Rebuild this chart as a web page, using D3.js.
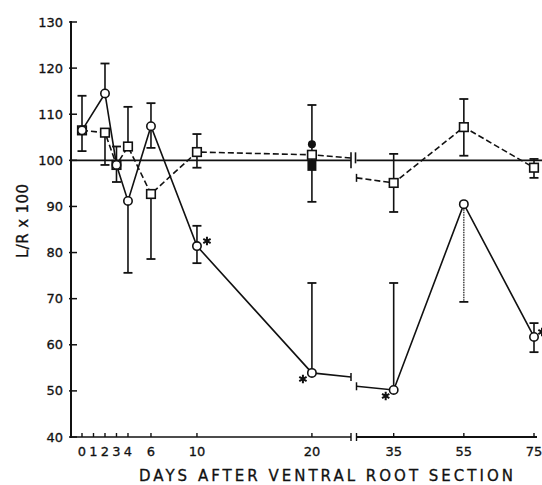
<!DOCTYPE html>
<html><head><meta charset="utf-8">
<script src="https://cdn.jsdelivr.net/npm/d3@7"></script>
<style>body{margin:0;background:#fff} svg{display:block}</style>
</head><body>
<script>
// ---- data ----
const days = [0, 2, 3, 4, 6, 10, 20, 35, 55, 75];
const circleVals = [106.5, 114.5, 99, 91.2, 107.4, 81.4, 53.9, 50.2, 90.5, 61.7];
const circleHi   = [114, 121, null, null, 112.4, 85.8, 73.4, 73.4, null, 64.7];
const circleLo   = [102, null, null, 75.6, 102.7, 77.7, null, null, 69.3, 58.4];
const squareVals = [106.5, 106, 99, 103, 92.7, 101.8, 101.2, 95.1, 107.2, 98.4];
const squareHi   = [null, null, 103, 111.6, null, 105.7, 112, 101.4, 113.3, 100.3];
const squareLo   = [null, 99, 95.3, null, 78.6, 98.4, 91, 88.8, 101, 96.2];
const filledDay = 20, filledCircle = 103.5, filledSquare = 98.8;
const breakDays = [23.4, 24.4];
const circleBreak = [53, 51];
const squareBreak = [100.5, 96.2];
const starDays = [10, 20, 35, 75];
const xTicks = [0, 1, 2, 3, 4, 6, 10, 20, 35, 55, 75];
const xTickLabels = ["0", "1", "2", "3", "4", "6", "10", "20", "35", "55", "75"];
const yTicks = [40, 50, 60, 70, 80, 90, 100, 110, 120, 130];
const refValue = 100;

// ---- drawing ----
const W = 542, H = 485;
const svg = d3.select("body").append("svg").attr("width", W).attr("height", H);
const x = d3.scaleLinear().domain([0, breakDays[0], breakDays[1], 75]).range([82, 351, 356.5, 534]);
const y = d3.scaleLinear().domain([40, 130]).range([437, 22]);
const FONT = "DejaVu Sans, sans-serif";
const ink = "#111";

// axes
const axisG = svg.append("g").attr("stroke", ink).attr("fill", "none");
axisG.append("line").attr("x1", 71).attr("x2", 71).attr("y1", y(130) - 1).attr("y2", y(40) + 1).attr("stroke-width", 2);
axisG.append("line").attr("x1", 70).attr("x2", x(breakDays[0])).attr("y1", y(40)).attr("y2", y(40)).attr("stroke-width", 1.6);
axisG.append("line").attr("x1", x(breakDays[1])).attr("x2", 537).attr("y1", y(40)).attr("y2", y(40)).attr("stroke-width", 2);
breakDays.forEach(b => axisG.append("line").attr("x1", x(b)).attr("x2", x(b)).attr("y1", y(40) - 4).attr("y2", y(40) + 4).attr("stroke-width", 1.4));

// y ticks
yTicks.forEach(v => {
  axisG.append("line").attr("x1", 69).attr("x2", 77).attr("y1", y(v)).attr("y2", y(v)).attr("stroke-width", 1.5);
});
svg.append("g").selectAll("text").data(yTicks).join("text")
  .attr("x", 63).attr("y", d => y(d) + 4.6).attr("text-anchor", "end")
  .attr("font-family", FONT).attr("font-size", 13).attr("fill", ink)
  .attr("stroke", ink).attr("stroke-width", 0.3)
  .text(d => d);

// x ticks
xTicks.forEach(v => {
  axisG.append("line").attr("x1", x(v)).attr("x2", x(v)).attr("y1", y(40)).attr("y2", y(40) - 4).attr("stroke-width", 1.4);
});
svg.append("g").selectAll("text").data(xTicks).join("text")
  .attr("x", d => x(d)).attr("y", 456).attr("text-anchor", "middle")
  .attr("font-family", FONT).attr("font-size", 13).attr("fill", ink)
  .attr("stroke", ink).attr("stroke-width", 0.3)
  .text((d, i) => xTickLabels[i]);

// titles
svg.append("text").attr("x", 139).attr("y", 481)
  .attr("font-family", FONT).attr("font-size", 15).attr("fill", ink)
  .attr("stroke", ink).attr("stroke-width", 0.3)
  .attr("textLength", 374).attr("lengthAdjust", "spacing")
  .text("DAYS AFTER VENTRAL ROOT SECTION");
svg.append("text").attr("transform", "translate(28,258) rotate(-90)")
  .attr("font-family", FONT).attr("font-size", 15).attr("fill", ink)
  .attr("stroke", ink).attr("stroke-width", 0.3)
  .attr("textLength", 74).attr("lengthAdjust", "spacing")
  .text("L/R x 100");

// reference line with break
const refG = svg.append("g").attr("stroke", ink).attr("stroke-width", 1.6);
refG.append("line").attr("x1", 71).attr("x2", x(breakDays[0])).attr("y1", y(refValue)).attr("y2", y(refValue));
refG.append("line").attr("x1", x(breakDays[1])).attr("x2", 542).attr("y1", y(refValue)).attr("y2", y(refValue));
refG.append("line").attr("x1", x(breakDays[0])).attr("x2", x(breakDays[0])).attr("y1", y(refValue) - 8).attr("y2", y(refValue) + 8);
refG.append("line").attr("x1", x(breakDays[1]) - 1).attr("x2", x(breakDays[1]) - 1).attr("y1", y(refValue) - 8).attr("y2", y(refValue) + 3);

// series lines
const line = d3.line().x(d => x(d[0])).y(d => y(d[1]));
function seriesPts(vals, brk) {
  const left = [], right = [];
  days.forEach((d, i) => { (d <= 20 ? left : right).push([d, vals[i]]); });
  left.push([breakDays[0], brk[0]]);
  right.unshift([breakDays[1], brk[1]]);
  return [left, right];
}
const [cL, cR] = seriesPts(circleVals, circleBreak);
const [sL, sR] = seriesPts(squareVals, squareBreak);
const linesG = svg.append("g").attr("fill", "none").attr("stroke", ink);
[sL, sR].forEach(p => linesG.append("path").attr("d", line(p)).attr("stroke-width", 1.6).attr("stroke-dasharray", "6,3"));
[cL, cR].forEach(p => linesG.append("path").attr("d", line(p)).attr("stroke-width", 1.6));
// break caps on series lines
[[breakDays[0], circleBreak[0]], [breakDays[1], circleBreak[1]], [breakDays[1], squareBreak[1]]].forEach(([d, v]) => {
  linesG.append("line").attr("x1", x(d)).attr("x2", x(d)).attr("y1", y(v) - 4).attr("y2", y(v) + 4).attr("stroke-width", 1.5);
});

// error bars
const errG = svg.append("g").attr("stroke", ink).attr("fill", "none");
function errBars(vals, hi, lo, name) {
  days.forEach((d, i) => {
    [hi[i], lo[i]].forEach(e => {
      if (e == null) return;
      const dotted = (name === "circle" && d === 55 && e < vals[i]);
      errG.append("line").attr("x1", x(d)).attr("x2", x(d)).attr("y1", y(vals[i])).attr("y2", y(e))
        .attr("stroke-width", dotted ? 1.2 : 1.6).attr("stroke-dasharray", dotted ? "1.5,1" : null);
      errG.append("line").attr("x1", x(d) - 4.5).attr("x2", x(d) + 4.5).attr("y1", y(e)).attr("y2", y(e)).attr("stroke-width", 1.8);
    });
  });
}
errBars(circleVals, circleHi, circleLo, "circle");
errBars(squareVals, squareHi, squareLo, "square");

// filled control markers
svg.append("circle").attr("cx", x(filledDay)).attr("cy", y(filledCircle)).attr("r", 4).attr("fill", ink);
svg.append("rect").attr("x", x(filledDay) - 4.5).attr("y", y(filledSquare) - 5).attr("width", 9).attr("height", 10).attr("fill", ink);

// markers
const mk = svg.append("g").attr("stroke", ink).attr("stroke-width", 1.6).attr("fill", "#fff");
mk.selectAll("rect").data(days.map((d, i) => [d, squareVals[i]])).join("rect")
  .attr("x", d => x(d[0]) - 4.3).attr("y", d => y(d[1]) - 4.3).attr("width", 8.6).attr("height", 8.6);
mk.selectAll("circle").data(days.map((d, i) => [d, circleVals[i]])).join("circle")
  .attr("cx", d => x(d[0])).attr("cy", d => y(d[1])).attr("r", 4.2);

// significance asterisks
const starOffset = { 10: [10, -5], 20: [-9, 6], 35: [-8, 6], 75: [8, -5] };
const star = d3.symbol().type(d3.symbolAsterisk).size(50);
svg.append("g").selectAll("path").data(starDays).join("path")
  .attr("d", star)
  .attr("transform", d => {
    const v = circleVals[days.indexOf(d)];
    return `translate(${x(d) + starOffset[d][0]},${y(v) + starOffset[d][1]})`;
  })
  .attr("fill", "none").attr("stroke", ink).attr("stroke-width", 2);
</script>
</body></html>
